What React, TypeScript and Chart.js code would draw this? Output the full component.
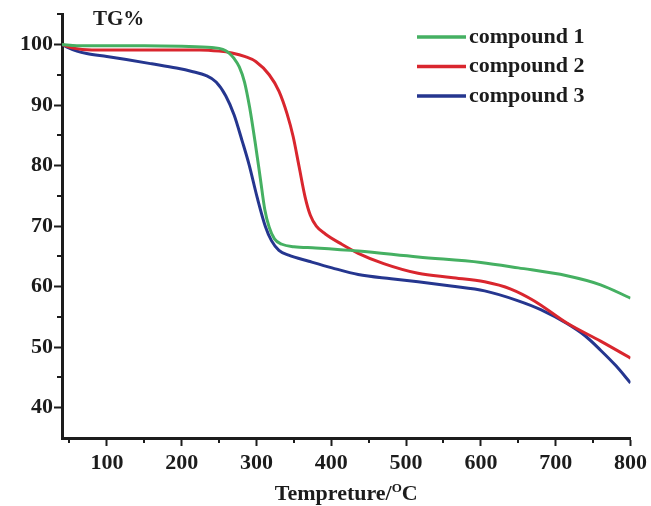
import React, { useEffect, useRef } from "react";
import { Chart, registerables } from "chart.js";
Chart.register(...registerables);

// compound 1 (green)
const tempC1 = [40, 60, 100, 150, 200, 240, 255, 263, 270, 277, 284, 291, 298, 305, 311, 317, 324, 334, 350, 379, 436, 516, 600, 650, 715, 760, 800];
const tgC1 = [100, 99.8, 99.8, 99.8, 99.7, 99.5, 99.2, 98.6, 97.7, 96.3, 93.8, 89.5, 84.0, 78.0, 72.8, 69.8, 67.9, 67.0, 66.6, 66.4, 65.9, 64.9, 64.0, 63.1, 61.8, 60.3, 58.1];

// compound 2 (red)
const tempC2 = [40, 55, 80, 150, 200, 224, 250, 267, 285, 299, 317, 330, 341, 349, 357, 365, 372, 380, 392, 414, 436, 470, 516, 560, 605, 640, 672, 715, 760, 800];
const tgC2 = [100, 99.4, 99.1, 99.1, 99.1, 99.1, 98.9, 98.6, 98.0, 97.2, 95.0, 92.3, 88.5, 84.8, 79.8, 74.8, 71.8, 70.0, 68.7, 67.0, 65.5, 63.8, 62.2, 61.5, 60.8, 59.6, 57.6, 54.0, 51.0, 48.2];

// compound 3 (blue)
const tempC3 = [40, 46, 60, 73, 100, 126, 160, 193, 215, 232, 246, 259, 270, 281, 290, 301, 312, 320, 330, 343, 370, 401, 436, 480, 516, 560, 605, 649, 680, 715, 740, 760, 780, 800];
const tgC3 = [100, 99.6, 98.9, 98.5, 98.0, 97.5, 96.8, 96.1, 95.5, 94.9, 93.8, 91.5, 88.4, 84.0, 80.2, 74.7, 69.9, 67.6, 66.0, 65.2, 64.2, 63.1, 62.0, 61.3, 60.8, 60.1, 59.3, 57.7, 56.2, 53.9, 51.8, 49.5, 47.0, 44.1];

const seriesLabels = ["compound 1", "compound 2", "compound 3"];
const seriesColors = ["#45b062", "#d9262e", "#25368f"];

const xTickValues = [50, 100, 150, 200, 250, 300, 350, 400, 450, 500, 550, 600, 650, 700, 750, 800];
const yTickValues = [40, 45, 50, 55, 60, 65, 70, 75, 80, 85, 90, 95, 100, 105];

const xTitleMain = "Tempreture/";
const xTitleSup = "O";
const xTitleEnd = "C";
const yTitle = "TG%";

const FONT = "'Liberation Serif', 'Times New Roman', serif";
const INK = "#1c1c1c";

export default function App() {
  const ref = useRef<HTMLCanvasElement>(null);
  useEffect(() => {
    document.body.style.margin = "0";
    const canvas = ref.current!;
    const pts = (xs: number[], ys: number[]) => xs.map((x, i) => ({ x, y: ys[i] }));

    const overlay = {
      id: "overlay",
      afterDraw(chart: any) {
        const ctx = chart.ctx as CanvasRenderingContext2D;
        const xs = chart.scales.x;
        const ys = chart.scales.y;
        const area = chart.chartArea;
        ctx.save();
        // minor ticks
        ctx.strokeStyle = INK;
        ctx.lineWidth = 2;
        xTickValues.forEach((v) => {
          if (v % 100 !== 0) {
            const px = Math.round(xs.getPixelForValue(v));
            ctx.beginPath();
            ctx.moveTo(px, area.bottom);
            ctx.lineTo(px, area.bottom + 5);
            ctx.stroke();
          }
        });
        yTickValues.forEach((v) => {
          if (v % 10 !== 0) {
            const py = Math.round(ys.getPixelForValue(v));
            ctx.beginPath();
            ctx.moveTo(area.left, py);
            ctx.lineTo(area.left - 5, py);
            ctx.stroke();
          }
        });
        // legend
        ctx.font = `bold 22px ${FONT}`;
        ctx.textBaseline = "middle";
        ctx.textAlign = "left";
        chart.data.datasets.forEach((ds: any, i: number) => {
          const y = 37 + i * 29.5;
          ctx.strokeStyle = ds.borderColor;
          ctx.lineWidth = 3.5;
          ctx.beginPath();
          ctx.moveTo(417, y);
          ctx.lineTo(466, y);
          ctx.stroke();
          ctx.fillStyle = INK;
          ctx.fillText(ds.label, 469, y);
        });
        // y title
        ctx.font = `bold 21px ${FONT}`;
        ctx.textBaseline = "alphabetic";
        ctx.fillText(yTitle, 93, 25);
        // x title
        ctx.font = `bold 22px ${FONT}`;
        const w1 = ctx.measureText(xTitleMain).width;
        const w3 = ctx.measureText(xTitleEnd).width;
        ctx.font = `bold 13px ${FONT}`;
        const w2 = ctx.measureText(xTitleSup).width;
        const cx = (area.left + area.right) / 2;
        const x0 = cx - (w1 + w2 + w3) / 2;
        const base = 500;
        ctx.font = `bold 22px ${FONT}`;
        ctx.fillText(xTitleMain, x0, base);
        ctx.font = `bold 13px ${FONT}`;
        ctx.fillText(xTitleSup, x0 + w1, base - 8);
        ctx.font = `bold 22px ${FONT}`;
        ctx.fillText(xTitleEnd, x0 + w1 + w2, base);
        ctx.restore();
      },
    };

    const tempArrays = [tempC1, tempC2, tempC3];
    const tgArrays = [tgC1, tgC2, tgC3];

    const chart = new Chart(canvas, {
      type: "line",
      data: {
        datasets: seriesLabels.map((label, i) => ({
          label,
          data: pts(tempArrays[i], tgArrays[i]),
          borderColor: seriesColors[i],
          backgroundColor: seriesColors[i],
          borderWidth: 3,
          pointRadius: 0,
          cubicInterpolationMode: "monotone" as const,
          fill: false,
        })),
      },
      options: {
        animation: false,
        responsive: true,
        maintainAspectRatio: false,
        layout: { padding: { left: 0, right: 18, top: 12, bottom: 0 } },
        plugins: { legend: { display: false }, tooltip: { enabled: false } },
        scales: {
          x: {
            type: "linear",
            min: 40,
            max: 800,
            afterBuildTicks: (s: any) => {
              s.ticks = xTickValues.map((v) => ({ value: v }));
            },
            afterFit: (s: any) => {
              s.height = 68;
            },
            ticks: {
              autoSkip: false,
              maxRotation: 0,
              padding: 4,
              color: INK,
              font: { family: FONT, size: 22, weight: "bold" },
              callback: (v: any) => (Number(v) % 100 === 0 ? String(v) : ""),
            },
            grid: {
              drawOnChartArea: false,
              tickLength: 8,
              tickWidth: 2,
              tickColor: (c: any) => (c.tick && c.tick.value % 100 === 0 ? INK : "rgba(0,0,0,0)"),
            },
            border: { color: INK, width: 3 },
          },
          y: {
            type: "linear",
            min: 35,
            max: 105,
            afterBuildTicks: (s: any) => {
              s.ticks = yTickValues.map((v) => ({ value: v }));
            },
            afterFit: (s: any) => {
              s.width = 62;
            },
            ticks: {
              autoSkip: false,
              padding: 1,
              color: INK,
              font: { family: FONT, size: 22, weight: "bold" },
              callback: (v: any) => (Number(v) % 10 === 0 && Number(v) <= 100 ? String(v) : ""),
            },
            grid: {
              drawOnChartArea: false,
              tickLength: 8,
              tickWidth: 2,
              tickColor: (c: any) => (c.tick && c.tick.value % 10 === 0 ? INK : "rgba(0,0,0,0)"),
            },
            border: { color: INK, width: 3 },
          },
        },
      },
      plugins: [overlay],
    });
    return () => chart.destroy();
  }, []);
  return (
    <div style={{ width: 651, height: 506, position: "relative", background: "#fff" }}>
      <canvas ref={ref} />
    </div>
  );
}
